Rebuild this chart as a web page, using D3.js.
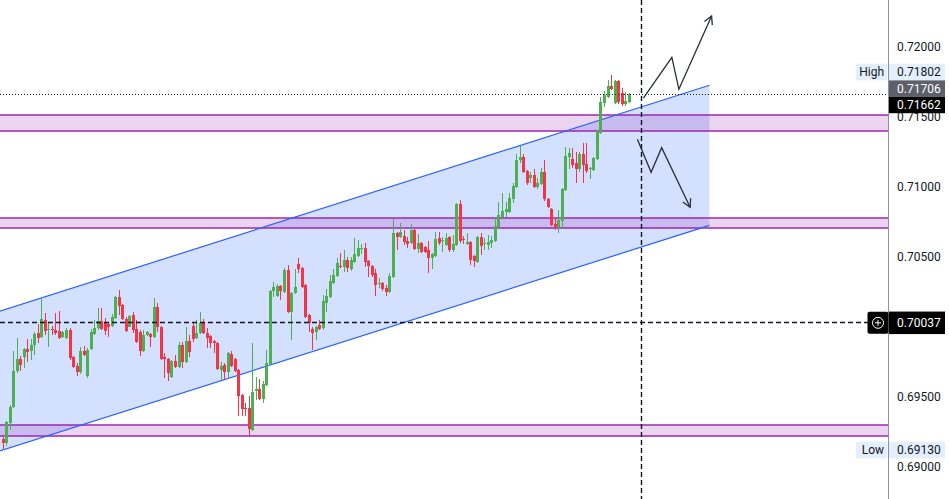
<!DOCTYPE html>
<html><head><meta charset="utf-8">
<script src="https://cdn.jsdelivr.net/npm/d3@7"></script>
<style>html,body{margin:0;padding:0;background:#fff;overflow:hidden}</style>
</head><body><svg id="c" width="949" height="499"></svg>
<script>
// ---- DATA (hourly candles) ----
const open=[0.69200,0.69171,0.69314,0.69429,0.69686,0.69771,0.69786,0.69843,0.69829,0.69871,0.69957,0.69929,0.70050,0.69979,0.69986,0.69979,0.69971,0.69929,0.69921,0.69979,0.69786,0.69721,0.69679,0.69829,0.69650,0.69843,0.69950,0.69993,0.70043,0.70029,0.70021,0.70007,0.70064,0.70214,0.70157,0.70057,0.70000,0.70086,0.69986,0.69964,0.69829,0.69943,0.69950,0.69929,0.70143,0.70000,0.69786,0.69771,0.69643,0.69757,0.69714,0.69871,0.69750,0.69900,0.70007,0.69921,0.69957,0.70029,0.69957,0.69936,0.69900,0.69886,0.69693,0.69729,0.69679,0.69807,0.69771,0.69693,0.69514,0.69421,0.69421,0.69264,0.69543,0.69557,0.69486,0.69586,0.69736,0.70257,0.70221,0.70293,0.70250,0.70407,0.70107,0.70243,0.70450,0.70421,0.70300,0.70086,0.69986,0.69964,0.70014,0.69993,0.70171,0.70214,0.70314,0.70364,0.70436,0.70429,0.70479,0.70414,0.70464,0.70507,0.70557,0.70564,0.70471,0.70436,0.70386,0.70307,0.70314,0.70279,0.70250,0.70357,0.70671,0.70643,0.70650,0.70614,0.70600,0.70693,0.70557,0.70600,0.70571,0.70550,0.70493,0.70507,0.70636,0.70614,0.70586,0.70643,0.70550,0.70586,0.70879,0.70629,0.70593,0.70607,0.70507,0.70464,0.70643,0.70593,0.70586,0.70600,0.70614,0.70714,0.70786,0.70821,0.70821,0.70914,0.71000,0.71193,0.71214,0.71114,0.71064,0.71086,0.71000,0.71021,0.71107,0.70914,0.70843,0.70736,0.70714,0.70757,0.70979,0.71214,0.71200,0.71171,0.71129,0.71236,0.71164,0.71129,0.71121,0.71200,0.71386,0.71600,0.71643,0.71721,0.71600,0.71757,0.71671,0.71593,0.71607];
const high=[0.69214,0.69329,0.69443,0.69829,0.69921,0.69793,0.69850,0.69914,0.69914,0.69964,0.70021,0.70207,0.70100,0.70029,0.70007,0.70100,0.70114,0.69971,0.69993,0.69993,0.69793,0.69743,0.69857,0.69864,0.69850,0.69986,0.70050,0.70136,0.70136,0.70064,0.70036,0.70093,0.70221,0.70264,0.70164,0.70071,0.70086,0.70107,0.70050,0.69979,0.69979,0.69971,0.69957,0.70207,0.70171,0.70007,0.69814,0.69779,0.69764,0.69800,0.69893,0.69893,0.70000,0.69943,0.70036,0.70050,0.70107,0.70057,0.69993,0.69943,0.69907,0.69893,0.69750,0.69743,0.69821,0.69829,0.69779,0.69700,0.69521,0.69457,0.69507,0.69886,0.69643,0.69629,0.69614,0.69836,0.70264,0.70321,0.70307,0.70300,0.70421,0.70443,0.70250,0.70414,0.70493,0.70429,0.70307,0.70093,0.70000,0.70007,0.70050,0.70229,0.70271,0.70371,0.70414,0.70493,0.70529,0.70550,0.70500,0.70500,0.70636,0.70621,0.70593,0.70600,0.70479,0.70443,0.70414,0.70350,0.70321,0.70300,0.70386,0.70771,0.70679,0.70743,0.70693,0.70643,0.70736,0.70700,0.70664,0.70607,0.70579,0.70614,0.70529,0.70679,0.70679,0.70643,0.70671,0.70650,0.70657,0.70886,0.70907,0.70650,0.70671,0.70614,0.70514,0.70650,0.70671,0.70636,0.70657,0.70650,0.70786,0.70893,0.70957,0.70893,0.70957,0.71029,0.71236,0.71293,0.71236,0.71121,0.71107,0.71129,0.71064,0.71136,0.71193,0.70921,0.70850,0.70779,0.70836,0.70993,0.71286,0.71279,0.71279,0.71250,0.71250,0.71314,0.71314,0.71143,0.71214,0.71407,0.71643,0.71686,0.71764,0.71802,0.71764,0.71764,0.71707,0.71679,0.71671];
const low=[0.69130,0.69150,0.69264,0.69421,0.69671,0.69686,0.69707,0.69750,0.69764,0.69800,0.69886,0.69921,0.69943,0.69857,0.69943,0.69943,0.69914,0.69921,0.69914,0.69764,0.69707,0.69650,0.69664,0.69793,0.69636,0.69836,0.69943,0.69979,0.69979,0.69943,0.69929,0.70000,0.70057,0.70086,0.70050,0.69964,0.70000,0.69957,0.69886,0.69793,0.69821,0.69936,0.69857,0.69921,0.69964,0.69764,0.69636,0.69614,0.69636,0.69707,0.69707,0.69707,0.69743,0.69786,0.69893,0.69914,0.69950,0.69950,0.69850,0.69850,0.69814,0.69693,0.69621,0.69621,0.69629,0.69714,0.69679,0.69364,0.69364,0.69364,0.69214,0.69257,0.69479,0.69479,0.69457,0.69579,0.69729,0.70214,0.70214,0.70193,0.70243,0.70100,0.69907,0.70236,0.70386,0.70279,0.70064,0.69964,0.69836,0.69907,0.69979,0.69979,0.70107,0.70207,0.70307,0.70357,0.70421,0.70393,0.70393,0.70400,0.70457,0.70500,0.70521,0.70429,0.70357,0.70357,0.70221,0.70279,0.70257,0.70221,0.70243,0.70350,0.70550,0.70636,0.70586,0.70564,0.70593,0.70550,0.70529,0.70529,0.70529,0.70386,0.70414,0.70500,0.70586,0.70536,0.70579,0.70536,0.70536,0.70579,0.70600,0.70593,0.70586,0.70443,0.70429,0.70457,0.70514,0.70550,0.70550,0.70564,0.70607,0.70707,0.70779,0.70786,0.70814,0.70886,0.70993,0.71171,0.71100,0.71014,0.71029,0.70993,0.70986,0.71014,0.70900,0.70850,0.70721,0.70693,0.70671,0.70700,0.70971,0.71129,0.71136,0.71029,0.71107,0.71029,0.71100,0.71057,0.71114,0.71193,0.71379,0.71571,0.71636,0.71693,0.71593,0.71593,0.71579,0.71579,0.71600];
const close=[0.69171,0.69321,0.69429,0.69686,0.69771,0.69729,0.69843,0.69821,0.69871,0.69950,0.69921,0.70057,0.69971,0.69986,0.69979,0.69957,0.69921,0.69964,0.69979,0.69779,0.69714,0.69679,0.69829,0.69800,0.69836,0.69964,0.69993,0.70043,0.69986,0.69971,0.70000,0.70071,0.70214,0.70150,0.70057,0.69971,0.70079,0.69979,0.69893,0.69829,0.69943,0.69964,0.69929,0.70143,0.70000,0.69771,0.69771,0.69671,0.69757,0.69714,0.69871,0.69750,0.69900,0.69821,0.69914,0.69957,0.70029,0.69957,0.69921,0.69886,0.69886,0.69700,0.69721,0.69679,0.69814,0.69721,0.69686,0.69507,0.69414,0.69414,0.69271,0.69536,0.69557,0.69486,0.69593,0.69743,0.70257,0.70286,0.70293,0.70257,0.70407,0.70107,0.70243,0.70286,0.70414,0.70286,0.70071,0.70029,0.69957,0.70000,0.69986,0.70186,0.70221,0.70329,0.70371,0.70457,0.70429,0.70479,0.70421,0.70479,0.70521,0.70564,0.70564,0.70464,0.70436,0.70371,0.70300,0.70314,0.70271,0.70250,0.70364,0.70671,0.70643,0.70679,0.70607,0.70593,0.70693,0.70557,0.70600,0.70536,0.70536,0.70493,0.70521,0.70629,0.70600,0.70621,0.70636,0.70550,0.70593,0.70879,0.70614,0.70621,0.70607,0.70479,0.70471,0.70643,0.70579,0.70600,0.70607,0.70621,0.70721,0.70800,0.70829,0.70843,0.70921,0.71007,0.71193,0.71214,0.71107,0.71029,0.71086,0.71000,0.71029,0.71107,0.70914,0.70857,0.70729,0.70714,0.70764,0.70986,0.71221,0.71243,0.71157,0.71129,0.71236,0.71157,0.71114,0.71136,0.71207,0.71393,0.71607,0.71657,0.71721,0.71700,0.71757,0.71607,0.71593,0.71614,0.71662];

const priceTicks=[0.69000,0.69500,0.70000,0.70500,0.71000,0.71500,0.72000];
const zones=[[0.71400,0.71514],[0.70707,0.70779],[0.69221,0.69300]];
const channelIdx=[-1,201];
const channelUpper=[0.70112,0.71727];
const channelLower=[0.69113,0.70726];
const upArrow=[[182.2,0.71634],[190.3,0.71926],[192.3,0.71698],[201.6,0.72221]];
const downArrow=[[180.5,0.71341],[184.4,0.71105],[187.4,0.71281],[195.5,0.70855]];
const lastPrice=0.71662, prevPrice=0.71706, highPrice=0.71802, lowPrice=0.69130;
const crossPrice=0.70037, crossIndex=181.6;

// ---- CHART ----
const W=949,H=499,plotR=888;
const UP='#4caf50',DN='#f23645',TXT='#131722';
const x=d3.scaleLinear().domain([0,open.length-1]).range([2.7,628.6]);
const y=d3.scaleLinear().domain([0.69,0.72]).range([467,47]);
const svg=d3.select('#c');
svg.append('defs').append('clipPath').attr('id','clip').append('rect').attr('x',0).attr('y',0).attr('width',plotR).attr('height',H);
const plot=svg.append('g').attr('clip-path','url(#clip)');

// channel fill
const poly=[[x(channelIdx[0]),y(channelUpper[0])],[x(channelIdx[1]),y(channelUpper[1])],[x(channelIdx[1]),y(channelLower[1])],[x(channelIdx[0]),y(channelLower[0])]];
plot.append('path').attr('d',d3.line()(poly)+'Z').attr('fill','rgba(41,98,255,0.2)');
// zones fill
zones.forEach(z=>{
  plot.append('rect').attr('x',0).attr('width',plotR).attr('y',y(z[1])).attr('height',y(z[0])-y(z[1])).attr('fill','rgba(156,39,176,0.2)');
});
// zone borders
zones.forEach(z=>{
  [z[0],z[1]].forEach(v=>plot.append('line').attr('x1',0).attr('x2',plotR).attr('y1',y(v)).attr('y2',y(v)).attr('stroke','#9c27b0').attr('stroke-width',1.6));
});
// channel lines
plot.append('line').attr('x1',x(channelIdx[0])).attr('y1',y(channelUpper[0])).attr('x2',x(channelIdx[1])).attr('y2',y(channelUpper[1])).attr('stroke','#2962ff').attr('stroke-width',1.2);
plot.append('line').attr('x1',x(channelIdx[0])).attr('y1',y(channelLower[0])).attr('x2',x(channelIdx[1])).attr('y2',y(channelLower[1])).attr('stroke','#2962ff').attr('stroke-width',1.2);

// candles (on top of drawings)
const cg=plot.append('g').attr('shape-rendering','crispEdges');
open.forEach((o,i)=>{
  const c=close[i],col=c>=o?UP:DN,cx=Math.round(x(i))+0.5;
  cg.append('line').attr('x1',cx).attr('x2',cx).attr('y1',y(high[i])).attr('y2',y(low[i])).attr('stroke',col).attr('stroke-width',1);
  const t=y(Math.max(o,c)),b=y(Math.min(o,c));
  cg.append('rect').attr('x',cx-1.5).attr('width',3).attr('y',t).attr('height',Math.max(1,b-t)).attr('fill',col);
});

// last price dotted line
plot.append('line').attr('x1',0).attr('x2',plotR).attr('y1',Math.round(y(lastPrice))+0.5).attr('y2',Math.round(y(lastPrice))+0.5).attr('stroke',TXT).attr('stroke-width',1).attr('stroke-dasharray','1,2');

// crosshair
const cx0=Math.round(x(crossIndex))+0.5;
plot.append('line').attr('x1',cx0).attr('x2',cx0).attr('y1',0).attr('y2',H).attr('stroke',TXT).attr('stroke-width',1.4).attr('stroke-dasharray','5,3');
const cy0=Math.round(y(crossPrice))+0.5;
plot.append('line').attr('x1',0).attr('x2',868).attr('y1',cy0).attr('y2',cy0).attr('stroke',TXT).attr('stroke-width',1.4).attr('stroke-dasharray','5,3');

// arrows
function arrow(pts){
  const p=pts.map(d=>[x(d[0]),y(d[1])]);
  plot.append('path').attr('d',d3.line()(p)).attr('fill','none').attr('stroke','#2a2e39').attr('stroke-width',1.3).attr('stroke-linejoin','miter');
  const e=p[p.length-1],s=p[p.length-2];
  const a=Math.atan2(s[1]-e[1],s[0]-e[0]),L=9,da=0.5;
  const h=[[e[0]+L*Math.cos(a+da),e[1]+L*Math.sin(a+da)],e,[e[0]+L*Math.cos(a-da),e[1]+L*Math.sin(a-da)]];
  plot.append('path').attr('d',d3.line()(h)).attr('fill','none').attr('stroke','#2a2e39').attr('stroke-width',1.3);
}
arrow(upArrow);arrow(downArrow);

// right price axis
svg.append('line').attr('x1',plotR+0.5).attr('x2',plotR+0.5).attr('y1',0).attr('y2',H).attr('stroke','#8f929b').attr('stroke-width',1);
const font='Roboto, "Noto Sans", sans-serif';
const lblX=897;
const crC=y(crossPrice)+1;
// tick labels hidden by the crosshair label are not drawn (as in the reference)
svg.append('g').selectAll('text').data(priceTicks.filter(d=>Math.abs(y(d)-crC)>14)).join('text')
  .attr('x',lblX).attr('y',d=>y(d)+1).attr('dominant-baseline','middle')
  .attr('font-family',font).attr('font-size',12).attr('fill',TXT).text(d=>d.toFixed(5));

const bh=16.5;
function box(cy,bg,fg,val,h){
  h=h||bh;
  svg.append('rect').attr('x',889).attr('y',cy-h/2).attr('width',56).attr('height',h).attr('fill',bg);
  svg.append('text').attr('x',lblX).attr('y',cy+1).attr('dominant-baseline','middle').attr('font-family',font).attr('font-size',12).attr('fill',fg).text(val.toFixed(5));
}
function tag(cy,label){
  svg.append('rect').attr('x',856).attr('y',cy-bh/2).attr('width',31).attr('height',bh).attr('fill','#e3effd');
  svg.append('text').attr('x',884).attr('y',cy+1).attr('dominant-baseline','middle').attr('text-anchor','end').attr('font-family',font).attr('font-size',12).attr('fill',TXT).text(label);
}
const prevC=y(prevPrice)+0.3;
const lastC=Math.max(y(lastPrice),prevC+bh);
const highC=Math.min(y(highPrice),prevC-bh);
box(prevC,'#5d606b','#ffffff',prevPrice);
box(lastC,'#000000','#ffffff',lastPrice);
tag(highC,'High');box(highC,'#e3effd',TXT,highPrice);
const lowC=y(lowPrice)+1.2;
tag(lowC,'Low');box(lowC,'#e3effd',TXT,lowPrice);

// crosshair price label and plus button
box(crC,'#000000','#ffffff',crossPrice,22.5);
svg.append('rect').attr('x',867.5).attr('y',crC-11).attr('width',21).attr('height',22).attr('rx',2).attr('fill','#000');
svg.append('circle').attr('cx',878).attr('cy',crC).attr('r',5.5).attr('fill','none').attr('stroke','#fff').attr('stroke-width',1);
svg.append('path').attr('d',`M875,${crC}H881M878,${crC-3}V${crC+3}`).attr('stroke','#fff').attr('stroke-width',1);
</script></body></html>
